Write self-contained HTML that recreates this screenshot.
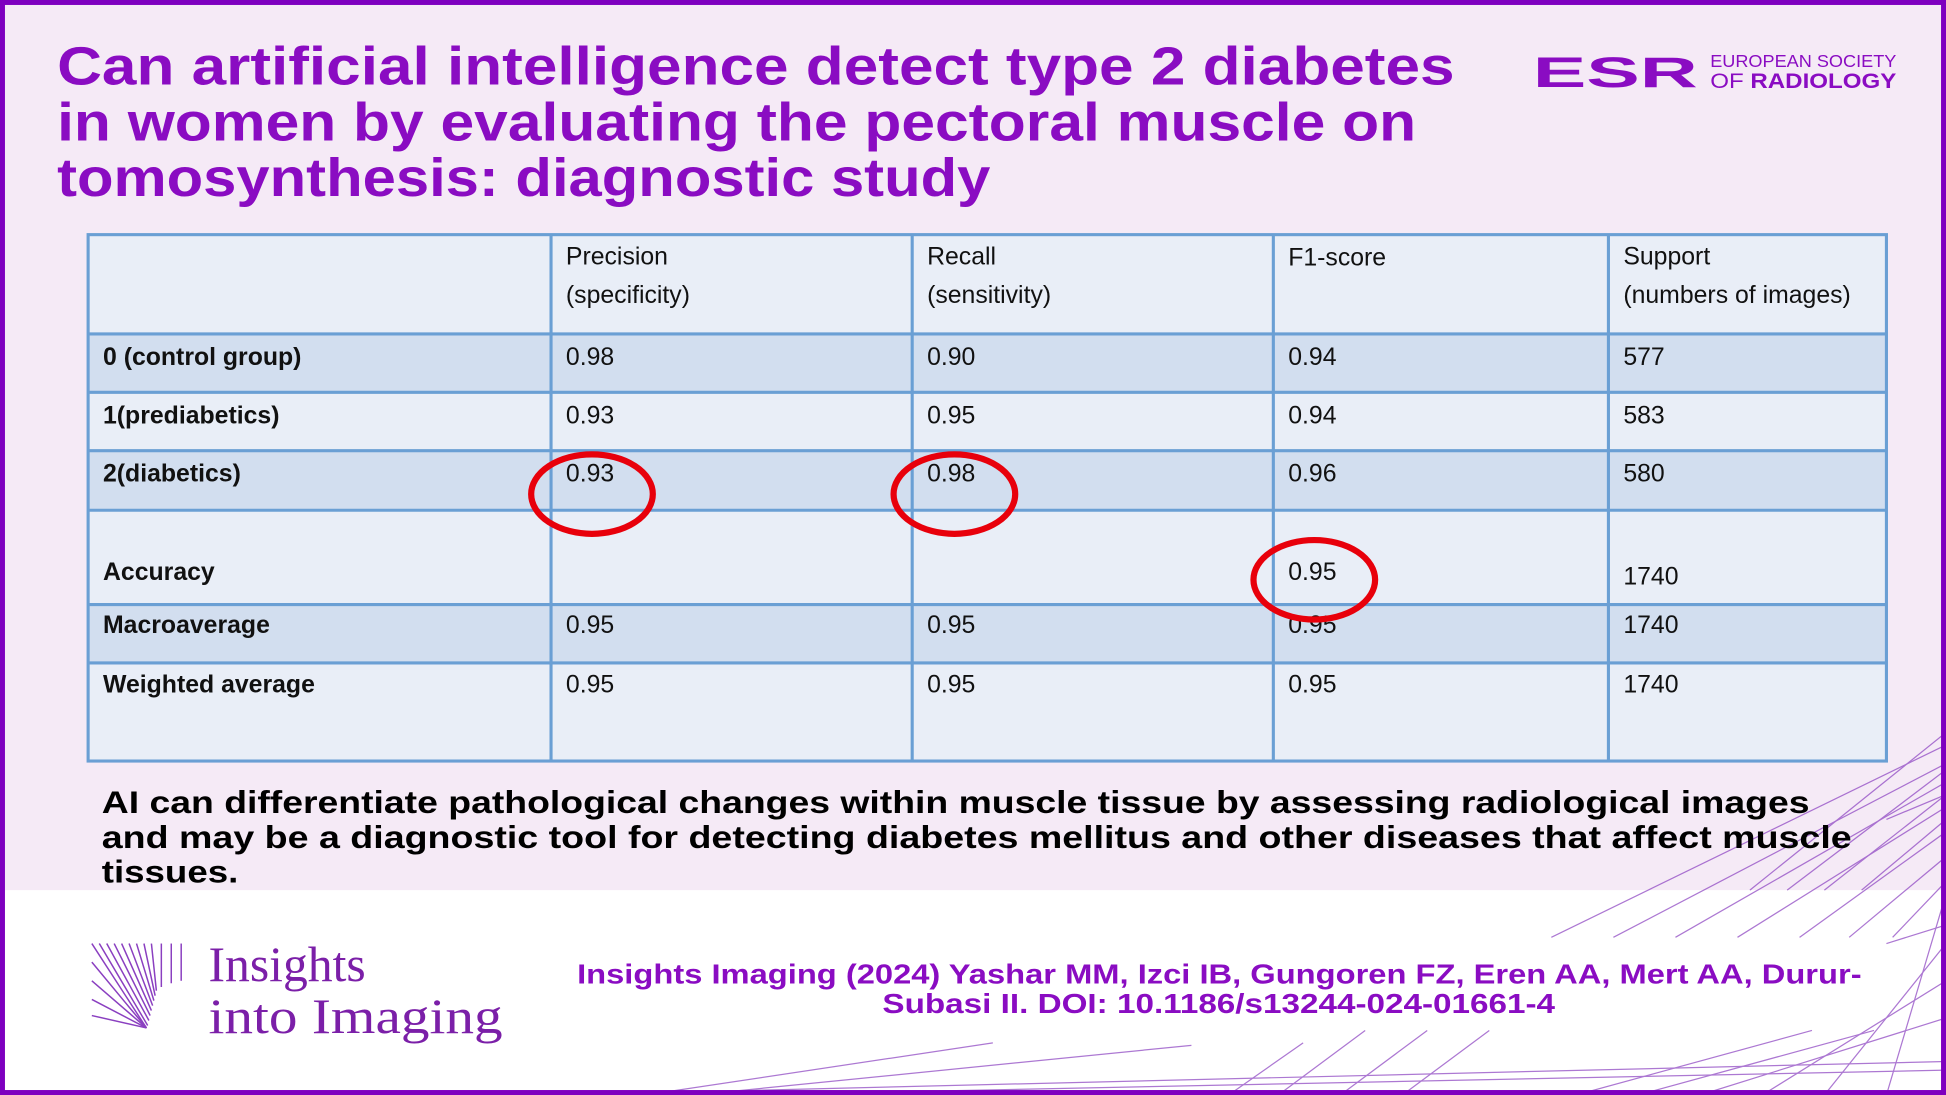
<!DOCTYPE html>
<html><head><meta charset="utf-8"><style>html,body{margin:0;padding:0;background:#fff}svg{display:block}</style></head>
<body>
<svg xmlns="http://www.w3.org/2000/svg" width="1946" height="1095" viewBox="0 0 1568 882" preserveAspectRatio="none">
<rect x="0" y="0" width="1568" height="882" fill="#fff"/>
<rect x="0" y="0" width="1568" height="717" fill="#f5eaf6"/>
<!-- decorative lines -->
<g stroke="#8a3fc0" stroke-width="1" opacity="0.7" fill="none">
<line x1="1568" y1="600" x2="1250" y2="755"/>
<line x1="1568" y1="615" x2="1300" y2="755"/>
<line x1="1568" y1="630" x2="1350" y2="755"/>
<line x1="1568" y1="650" x2="1400" y2="755"/>
<line x1="1568" y1="670" x2="1450" y2="755"/>
<line x1="1568" y1="690" x2="1490" y2="755"/>
<line x1="1568" y1="710" x2="1525" y2="755"/>
<line x1="1568" y1="620" x2="1440" y2="717"/>
<line x1="1568" y1="640" x2="1470" y2="717"/>
<line x1="1568" y1="660" x2="1500" y2="717"/>
<line x1="1568" y1="590" x2="1410" y2="717"/>
<line x1="1568" y1="720" x2="1520" y2="882"/>
<line x1="1568" y1="760" x2="1470" y2="882"/>
<line x1="1568" y1="790" x2="1420" y2="882"/>
<line x1="1568" y1="820" x2="1370" y2="882"/>
<line x1="1510" y1="830" x2="1320" y2="882"/>
<line x1="1460" y1="830" x2="1270" y2="882"/>
<line x1="1200" y1="830" x2="1130" y2="882"/>
<line x1="1150" y1="830" x2="1080" y2="882"/>
<line x1="1100" y1="830" x2="1030" y2="882"/>
<line x1="1050" y1="840" x2="990" y2="882"/>
<line x1="450" y1="882" x2="1568" y2="855"/>
<line x1="600" y1="882" x2="1568" y2="862"/>
<line x1="520" y1="882" x2="800" y2="840"/>
<line x1="560" y1="882" x2="960" y2="842"/>
<line x1="1520" y1="660" x2="1568" y2="640"/>
<line x1="1520" y1="760" x2="1568" y2="745"/>
</g>
<!-- frame -->
<rect x="2" y="2" width="1564" height="878" fill="none" stroke="#7e00bf" stroke-width="4"/>
<!-- title -->
<g font-family="Liberation Sans, Arial, sans-serif" font-weight="bold" fill="#8a0cc2" font-size="43">
<text x="46" y="68" textLength="1126" lengthAdjust="spacingAndGlyphs">Can artificial intelligence detect type 2 diabetes</text>
<text x="46" y="113" textLength="1095" lengthAdjust="spacingAndGlyphs">in women by evaluating the pectoral muscle on</text>
<text x="46" y="158" textLength="752" lengthAdjust="spacingAndGlyphs">tomosynthesis: diagnostic study</text>
</g>
<!-- ESR logo -->
<g fill="#8a0cc2" font-family="Liberation Sans, Arial, sans-serif">
<text x="1235" y="70" font-size="34" font-weight="bold" textLength="133" lengthAdjust="spacingAndGlyphs">ESR</text>
<text x="1378" y="54" font-size="14" textLength="150" lengthAdjust="spacingAndGlyphs">EUROPEAN SOCIETY</text>
<text x="1378" y="71" font-size="17" textLength="150" lengthAdjust="spacingAndGlyphs">OF <tspan font-weight="bold">RADIOLOGY</tspan></text>
</g>
<!-- table -->
<g>
<rect x="71" y="189" width="1449" height="424" fill="#e9eef7"/>
<rect x="71" y="269" width="1449" height="47" fill="#d2deef"/>
<rect x="71" y="363" width="1449" height="48" fill="#d2deef"/>
<rect x="71" y="487" width="1449" height="47" fill="#d2deef"/>
<g stroke="#6a9fd4" stroke-width="2.5">
<rect x="71" y="189" width="1449" height="424" fill="none"/>
<line x1="71" y1="269" x2="1520" y2="269"/>
<line x1="71" y1="316" x2="1520" y2="316"/>
<line x1="71" y1="363" x2="1520" y2="363"/>
<line x1="71" y1="411" x2="1520" y2="411"/>
<line x1="71" y1="487" x2="1520" y2="487"/>
<line x1="71" y1="534" x2="1520" y2="534"/>
<line x1="444" y1="189" x2="444" y2="613"/>
<line x1="735" y1="189" x2="735" y2="613"/>
<line x1="1026" y1="189" x2="1026" y2="613"/>
<line x1="1296" y1="189" x2="1296" y2="613"/>
</g>
<g font-family="Liberation Sans Narrow, Liberation Sans, sans-serif" font-size="20" fill="#111">
<text x="456" y="213">Precision</text><text x="456" y="244">(specificity)</text>
<text x="747" y="213">Recall</text><text x="747" y="244">(sensitivity)</text>
<text x="1038" y="214">F1-score</text>
<text x="1308" y="213">Support</text><text x="1308" y="244">(numbers of images)</text>
<g font-weight="bold">
<text x="83" y="294">0 (control group)</text>
<text x="83" y="341">1(prediabetics)</text>
<text x="83" y="388">2(diabetics)</text>
<text x="83" y="467">Accuracy</text>
<text x="83" y="510">Macroaverage</text>
<text x="83" y="558">Weighted average</text>
</g>
<text x="456" y="294">0.98</text><text x="747" y="294">0.90</text><text x="1038" y="294">0.94</text><text x="1308" y="294">577</text>
<text x="456" y="341">0.93</text><text x="747" y="341">0.95</text><text x="1038" y="341">0.94</text><text x="1308" y="341">583</text>
<text x="456" y="388">0.93</text><text x="747" y="388">0.98</text><text x="1038" y="388">0.96</text><text x="1308" y="388">580</text>
<text x="1038" y="467">0.95</text><text x="1308" y="471">1740</text>
<text x="456" y="510">0.95</text><text x="747" y="510">0.95</text><text x="1038" y="510">0.95</text><text x="1308" y="510">1740</text>
<text x="456" y="558">0.95</text><text x="747" y="558">0.95</text><text x="1038" y="558">0.95</text><text x="1308" y="558">1740</text>
</g>
<g fill="none" stroke="#e8000b" stroke-width="5">
<ellipse cx="477" cy="398" rx="49" ry="32"/>
<ellipse cx="769" cy="398" rx="49" ry="32"/>
<ellipse cx="1059" cy="467" rx="49" ry="32"/>
</g>
</g>
<!-- conclusion -->
<g font-family="Liberation Sans, Arial, sans-serif" font-weight="bold" font-size="25" fill="#000">
<text x="82" y="655" textLength="1376" lengthAdjust="spacingAndGlyphs">AI can differentiate pathological changes within muscle tissue by assessing radiological images</text>
<text x="82" y="683" textLength="1410" lengthAdjust="spacingAndGlyphs">and may be a diagnostic tool for detecting diabetes mellitus and other diseases that affect muscle</text>
<text x="82" y="711" textLength="110" lengthAdjust="spacingAndGlyphs">tissues.</text>
</g>
<!-- Insights logo -->
<g stroke="#8a3fc0" stroke-width="1.2">
<line x1="74" y1="760" x2="118" y2="828"/><line x1="80" y1="760" x2="119" y2="826"/>
<line x1="86" y1="760" x2="120" y2="822"/><line x1="92" y1="760" x2="121" y2="818"/>
<line x1="98" y1="760" x2="122" y2="814"/><line x1="104" y1="760" x2="123" y2="810"/>
<line x1="110" y1="760" x2="124" y2="806"/><line x1="116" y1="760" x2="125" y2="802"/>
<line x1="122" y1="760" x2="126" y2="798"/><line x1="74" y1="775" x2="118" y2="828"/>
<line x1="74" y1="790" x2="118" y2="828"/><line x1="74" y1="805" x2="118" y2="828"/>
<line x1="74" y1="818" x2="118" y2="828"/><line x1="130" y1="760" x2="130" y2="795"/>
<line x1="138" y1="760" x2="138" y2="792"/><line x1="146" y1="760" x2="146" y2="790"/>
</g>
<g font-family="Liberation Serif, serif" fill="#7b1fa8" font-size="40">
<text x="168" y="790">Insights</text>
<text x="168" y="832" textLength="237" lengthAdjust="spacingAndGlyphs">into Imaging</text>
</g>
<!-- citation -->
<g font-family="Liberation Sans, Arial, sans-serif" font-weight="bold" font-size="22" fill="#8a0cc2">
<text x="465" y="792" textLength="1035" lengthAdjust="spacingAndGlyphs">Insights Imaging (2024) Yashar MM, Izci IB, Gungoren FZ, Eren AA, Mert AA, Durur-</text>
<text x="711" y="816" textLength="542" lengthAdjust="spacingAndGlyphs">Subasi II. DOI: 10.1186/s13244-024-01661-4</text>
</g>
</svg>
</body></html>
